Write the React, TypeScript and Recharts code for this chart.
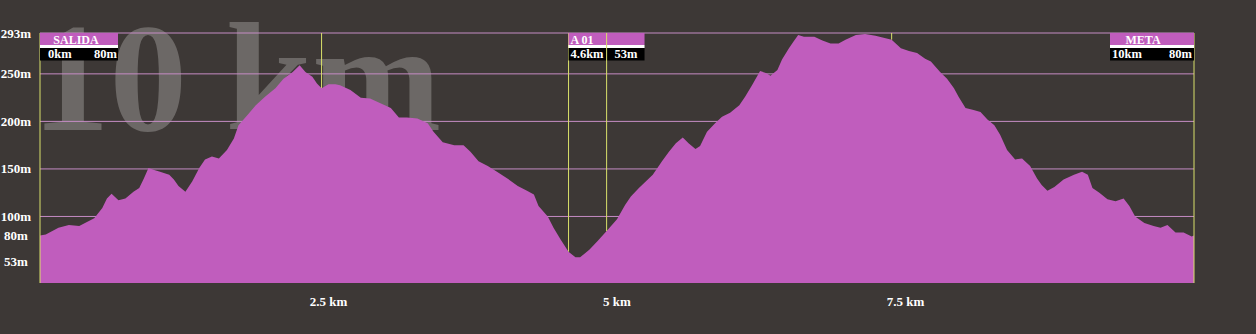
import {
  Area,
  AreaChart,
  CartesianGrid,
  ReferenceLine,
  XAxis,
  YAxis,
} from 'recharts'

// distance along the route (km) and elevation (m)
const KM = [
  0, 0.05, 0.16, 0.25, 0.34, 0.39, 0.47, 0.54, 0.58, 0.62, 0.68, 0.74, 0.81, 0.86, 0.9, 0.94, 0.99,
  1.04, 1.12, 1.16, 1.2, 1.26, 1.32, 1.38, 1.43, 1.49, 1.55, 1.62, 1.68, 1.72, 1.8, 1.87, 1.95,
  2.04, 2.11, 2.19, 2.25, 2.3, 2.36, 2.4, 2.44, 2.5, 2.56, 2.6, 2.69, 2.78, 2.86, 2.95,
  3.04, 3.11, 3.18, 3.27, 3.36, 3.41, 3.49, 3.59, 3.67, 3.73, 3.8, 3.88, 3.96,
  4.05, 4.14, 4.22, 4.28, 4.32, 4.4, 4.45, 4.51, 4.58, 4.64, 4.68, 4.76, 4.83, 4.92,
  5.0, 5.07, 5.12, 5.19, 5.31, 5.39, 5.45, 5.51, 5.57, 5.62, 5.68, 5.72, 5.78, 5.85, 5.91, 5.98,
  6.06, 6.11, 6.17, 6.24, 6.29, 6.33, 6.39, 6.43, 6.49, 6.53, 6.57, 6.62, 6.71, 6.78, 6.85, 6.92, 6.98,
  7.07, 7.15, 7.24, 7.31, 7.38, 7.46, 7.53, 7.6, 7.67, 7.72, 7.8, 7.86, 7.92, 7.96,
  8.02, 8.09, 8.15, 8.21, 8.27, 8.32, 8.38, 8.45, 8.51, 8.58, 8.64, 8.68, 8.73, 8.79, 8.87, 8.96,
  9.03, 9.08, 9.12, 9.18, 9.25, 9.32, 9.39, 9.44, 9.49, 9.57, 9.65, 9.71, 9.77, 9.84, 9.91, 9.98, 10,
]
const ELEV = [
  80, 81, 88, 91, 90, 93, 98, 109, 119, 124, 117, 119, 126, 130, 140, 151, 149,
  147, 144, 139, 132, 126, 137, 151, 160, 163, 161, 170, 182, 196, 207, 217, 226,
  235, 245, 252, 259, 252, 247, 240, 235, 239, 239, 238, 233, 225, 224, 219,
  214, 204, 204, 203, 198, 189, 178, 175, 175, 168, 158, 153, 147,
  140, 132, 127, 123, 111, 100, 88, 76, 63, 57, 57, 65, 74, 86,
  97, 112, 121, 130, 144, 158, 168, 177, 183, 177, 171, 174, 189, 198, 205, 209,
  217, 226, 238, 253, 251, 248, 254, 265, 277, 284, 291, 289, 289, 285, 282, 282, 286,
  291, 292, 290, 288, 286, 277, 274, 272, 266, 263, 252, 245, 235, 226,
  214, 212, 210, 202, 196, 186, 170, 160, 161, 153, 140, 133, 127, 131, 139, 144,
  147, 144, 130, 125, 118, 116, 119, 111, 100, 93, 90, 88, 91, 83, 83, 79, 80,
]

const Y_TICKS = [53, 80, 100, 150, 200, 250, 293]
const GRID_VALUES = [100, 150, 200, 250, 293]
const X_TICKS = [2.5, 5, 7.5]
const MARKER_KM = [2.44, 4.58, 4.91, 7.38]
const FLAG_KM_AT = 4.58

const FLAG_NAMES = ['SALIDA', 'A 01', 'META']
const FLAG_KM = ['0km', '4.6km', '10km']
const FLAG_ELEV = ['80m', '53m', '80m']

const BG = '#3d3836'
const FILL = '#c05dbd'
const GRID = '#c58cc4'
const YELLOW = '#d9e06a'
const SERIF = "'Liberation Serif', 'Times New Roman', serif"

// box geometry for each flag (width, which side of its line, text offsets)
const FLAG_LAYOUT = [
  { width: 78, left: false, nameX: 36, nameAnchor: 'middle', kmX: 8, elevX: 77 },
  { width: 76, left: false, nameX: 2, nameAnchor: 'start', kmX: 2, elevX: 69 },
  { width: 84, left: true, nameX: 33, nameAnchor: 'middle', kmX: 2, elevX: 82 },
]

const data = KM.map((km, i) => ({ km, elev: ELEV[i] }))

function elevAt(km: number) {
  for (let i = 1; i < KM.length; i++) {
    if (km <= KM[i]) {
      const t = (km - KM[i - 1]) / (KM[i] - KM[i - 1])
      return ELEV[i - 1] + t * (ELEV[i] - ELEV[i - 1])
    }
  }
  return ELEV[ELEV.length - 1]
}

function flagLabel(idx: number) {
  const lay = FLAG_LAYOUT[idx]
  return (props: any) => {
    const vb = props.viewBox ?? { x: props.x, y: props.y }
    const x0 = lay.left ? vb.x - lay.width : vb.x
    const y0 = vb.y
    return (
      <g fontFamily={SERIF} fontWeight={700}>
        <rect x={x0} y={y0} width={lay.width} height={12} fill={FILL} />
        <rect x={x0} y={y0 + 12} width={lay.width} height={3} fill="#ffffff" />
        <rect x={x0} y={y0 + 15} width={lay.width} height={12.5} fill="#000000" />
        <text x={x0 + lay.nameX} y={y0 + 10.5} textAnchor={lay.nameAnchor} fontSize={12} fill="#ffffff">
          {FLAG_NAMES[idx]}
        </text>
        <text x={x0 + lay.kmX} y={y0 + 25} fontSize={12.5} fill="#ffffff">
          {FLAG_KM[idx]}
        </text>
        <text x={x0 + lay.elevX} y={y0 + 25} textAnchor="end" fontSize={12.5} fill="#ffffff">
          {FLAG_ELEV[idx]}
        </text>
      </g>
    )
  }
}

const YTick = (props: any) => {
  const { x, y, payload } = props
  return (
    <text x={x - 24} y={y} dy={4.5} textAnchor="middle" fill="#ffffff" fontSize={13} fontWeight={700} fontFamily={SERIF}>
      {payload.value}m
    </text>
  )
}

const XTick = (props: any) => {
  const { x, y, payload } = props
  return (
    <text x={x} y={y + 23} textAnchor="middle" fill="#ffffff" fontSize={13} fontWeight={700} fontFamily={SERIF}>
      {payload.value} km
    </text>
  )
}

export default function App() {
  return (
    <div style={{ position: 'fixed', left: 0, top: 0, width: 1256, height: 334, background: BG, overflow: 'hidden' }}>
      <svg width={1256} height={334} style={{ position: 'absolute', left: 0, top: 0 }}>
        <text x={32} y={130} fontSize={155} fontWeight={700} fontFamily={SERIF} fill="#6c6866">
          10 km
        </text>
      </svg>
      <div style={{ position: 'absolute', left: 0, top: 0 }}>
        <AreaChart width={1256} height={334} data={data} margin={{ top: 33, right: 62, bottom: 0, left: 0 }}>
          <CartesianGrid vertical={false} horizontalValues={GRID_VALUES} stroke={GRID} />
          <XAxis
            dataKey="km"
            type="number"
            domain={[0, 10]}
            ticks={X_TICKS}
            interval={0}
            height={51}
            tickSize={0}
            tickMargin={0}
            axisLine={false}
            tickLine={false}
            tick={<XTick />}
          />
          <YAxis
            type="number"
            domain={[30, 293]}
            ticks={Y_TICKS}
            interval={0}
            width={40}
            tickSize={0}
            tickMargin={0}
            axisLine={false}
            tickLine={false}
            tick={<YTick />}
          />
          <Area
            type="linear"
            dataKey="elev"
            stroke="none"
            fill={FILL}
            fillOpacity={1}
            isAnimationActive={false}
          />
          <ReferenceLine x={0} stroke={YELLOW} label={flagLabel(0)} />
          <ReferenceLine x={10} stroke={YELLOW} label={flagLabel(2)} />
          {MARKER_KM.map((km) => (
            <ReferenceLine
              key={km}
              stroke={YELLOW}
              segment={[
                { x: km, y: elevAt(km) },
                { x: km, y: 293 },
              ]}
              label={km === FLAG_KM_AT ? flagLabel(1) : undefined}
            />
          ))}
        </AreaChart>
      </div>
    </div>
  )
}
